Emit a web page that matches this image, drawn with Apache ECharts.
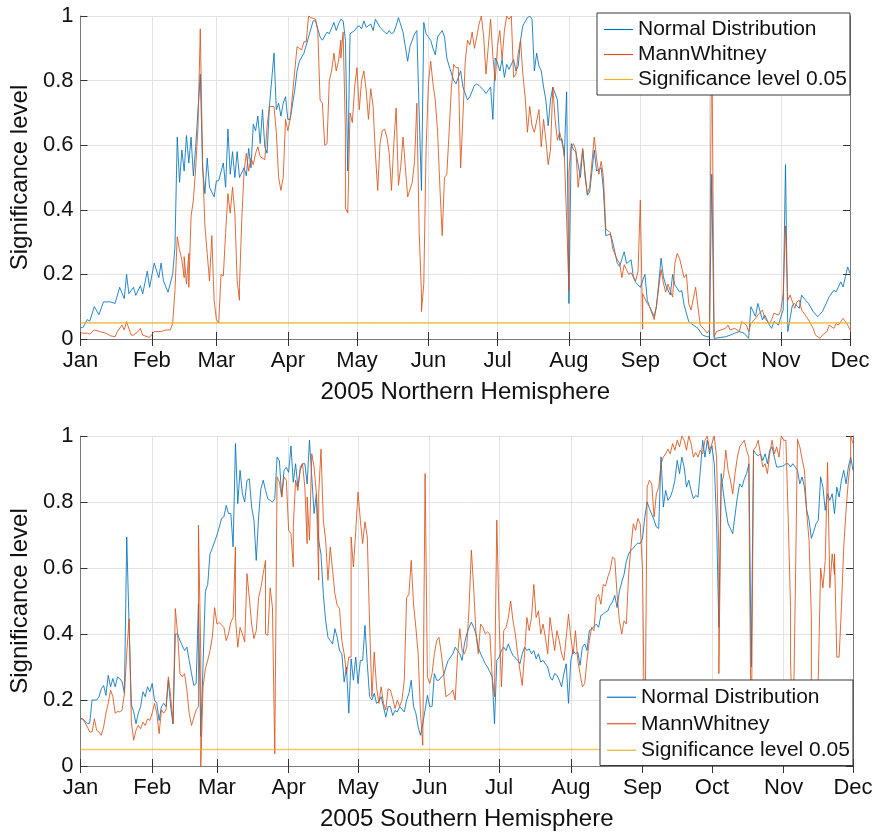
<!DOCTYPE html>
<html>
<head>
<meta charset="utf-8">
<title>2005 significance levels</title>
<script src="https://cdn.jsdelivr.net/npm/echarts@6/dist/echarts.min.js"></script>
<style>
  html, body { margin: 0; padding: 0; background: #fff; }
  #chart { width: 882px; height: 833px; }
</style>
</head>
<body>
<div id="chart"></div>
<script>
// Calendar of the x axis: one category per day from Jan 1 to Dec 1, 2005
const monthNames = ['Jan', 'Feb', 'Mar', 'Apr', 'May', 'Jun', 'Jul', 'Aug', 'Sep', 'Oct', 'Nov', 'Dec'];
const monthLengths = [31, 28, 31, 30, 31, 30, 31, 31, 30, 31, 30, 1];
const yTickValues = [0, 0.2, 0.4, 0.6, 0.8, 1];
const significanceLevel = 0.05;

// Daily p-values as [day of year (0 = Jan 1), value]
const northNormal = [
  [0,0.035],[1,0.035],[3,0.06],[4,0.055],[6,0.10],[8,0.075],[10,0.115],[13,0.115],[15,0.11],[17,0.16],
  [19,0.125],[20,0.20],[21,0.14],[23,0.16],[24,0.135],[26,0.165],[27,0.14],[29,0.21],[30,0.16],[32,0.235],
  [34,0.19],[35,0.235],[36,0.18],[38,0.145],[40,0.20],[41,0.285],[42,0.625],[43,0.485],[44,0.585],[45,0.52],
  [46,0.63],[47,0.545],[48,0.625],[49,0.505],[50,0.595],[52,0.82],[53,0.53],[54,0.45],[55,0.56],[56,0.47],
  [58,0.44],[59,0.49],[60,0.49],[62,0.545],[63,0.47],[64,0.65],[65,0.51],[66,0.58],[67,0.50],[68,0.58],
  [69,0.50],[71,0.53],[72,0.505],[73,0.59],[74,0.53],[75,0.665],[76,0.645],[77,0.69],[78,0.605],[79,0.71],
  [80,0.595],[81,0.575],[82,0.72],[84,0.885],[85,0.71],[86,0.73],[87,0.69],[88,0.73],[89,0.75],[90,0.68],
  [91,0.68],[93,0.77],[94,0.83],[95,0.86],[97,0.885],[99,0.935],[101,0.985],[102,0.985],[104,0.935],[105,0.925],
  [107,0.95],[108,0.945],[110,0.98],[111,0.955],[112,0.975],[113,0.99],[114,0.985],[115,0.925],[116,0.52],[117,0.945],
  [119,0.955],[120,0.965],[121,0.97],[122,0.96],[123,0.985],[124,0.965],[126,0.975],[127,0.955],[128,0.99],[130,0.965],
  [132,0.95],[133,0.945],[134,0.955],[135,0.945],[136,0.95],[137,0.97],[138,0.995],[140,0.95],[141,0.905],[142,0.86],
  [143,0.905],[144,0.925],[145,0.945],[146,0.955],[147,0.70],[148,0.46],[149,0.98],[150,0.945],[152,0.925],[153,0.90],
  [154,0.88],[155,0.935],[157,0.955],[158,0.935],[159,0.87],[160,0.845],[162,0.80],[163,0.79],[164,0.81],[165,0.83],
  [166,0.78],[168,0.74],[169,0.75],[171,0.785],[172,0.79],[173,0.785],[175,0.77],[176,0.76],[178,0.78],[179,0.68],
  [180,0.87],[181,0.855],[182,0.83],[183,0.865],[184,0.81],[185,0.85],[186,0.835],[188,0.865],[189,0.83],[190,0.845],
  [191,0.925],[192,0.97],[194,0.995],[195,1.0],[196,0.99],[197,0.83],[198,0.885],[199,0.845],[200,0.83],[201,0.78],
  [202,0.74],[203,0.66],[204,0.74],[205,0.78],[207,0.74],[208,0.615],[209,0.62],[210,0.565],[211,0.765],[212,0.11],
  [213,0.605],[214,0.585],[215,0.58],[217,0.50],[218,0.585],[220,0.445],[221,0.455],[223,0.585],[224,0.52],[226,0.53],
  [227,0.46],[228,0.32],[230,0.325],[231,0.30],[233,0.234],[234,0.225],[236,0.27],[237,0.234],[239,0.245],[240,0.19],
  [241,0.175],[243,0.16],[245,0.20],[246,0.12],[247,0.10],[249,0.07],[250,0.10],[252,0.25],[253,0.193],[254,0.167],
  [256,0.136],[257,0.20],[258,0.167],[260,0.146],[261,0.15],[262,0.105],[264,0.054],[266,0.043],[268,0.033],[270,0.012],
  [272,0.007],[273,0.007],[274,0.51],[275,0.002],[278,0.005],[280,0.007],[282,0.012],[284,0.018],[286,0.023],[288,0.018],
  [290,0.002],[291,0.10],[293,0.07],[294,0.11],[296,0.059],[297,0.074],[299,0.043],[300,0.033],[301,0.054],[303,0.043],
  [304,0.069],[305,0.09],[306,0.54],[307,0.023],[309,0.105],[310,0.11],[312,0.095],[313,0.136],[314,0.126],[316,0.11],
  [318,0.085],[320,0.069],[322,0.085],[324,0.115],[325,0.131],[327,0.151],[328,0.146],[330,0.177],[331,0.161],[332,0.193],
  [333,0.223],[334,0.203]
];

const northMann = [
  [0,0.02],[1,0.018],[3,0.018],[4,0.015],[6,0.028],[9,0.022],[11,0.018],[13,0.01],[15,0.007],[16,0.023],
  [18,0.043],[19,0.028],[20,0.054],[22,0.012],[23,0.012],[25,0.023],[26,0.033],[27,0.012],[29,0.007],[30,0.005],
  [32,0.023],[35,0.023],[37,0.028],[39,0.028],[40,0.048],[41,0.15],[42,0.316],[43,0.275],[44,0.245],[45,0.19],
  [45,0.255],[46,0.17],[47,0.265],[47,0.16],[48,0.38],[49,0.43],[50,0.53],[51,0.655],[52,0.96],[53,0.55],
  [54,0.35],[55,0.265],[56,0.18],[57,0.32],[58,0.12],[59,0.06],[60,0.05],[61,0.20],[62,0.195],[63,0.33],
  [64,0.45],[65,0.39],[66,0.47],[67,0.39],[68,0.18],[69,0.12],[69,0.16],[70,0.37],[71,0.52],[72,0.575],
  [73,0.52],[74,0.56],[75,0.54],[76,0.575],[77,0.595],[78,0.565],[80,0.555],[81,0.66],[82,0.72],[84,0.72],
  [85,0.64],[86,0.50],[87,0.46],[88,0.50],[89,0.68],[90,0.645],[91,0.68],[93,0.83],[94,0.905],[96,0.895],
  [97,0.92],[98,0.92],[99,1.0],[100,0.995],[102,0.99],[103,0.955],[104,0.74],[105,0.73],[106,0.60],[107,0.605],
  [108,0.80],[109,0.83],[110,0.885],[111,0.83],[112,0.86],[113,0.925],[113,0.87],[114,0.95],[115,0.64],[115,0.405],
  [116,0.39],[117,0.70],[118,0.67],[119,0.78],[120,0.84],[121,0.71],[122,0.80],[123,0.83],[124,0.77],[125,0.68],
  [126,0.775],[127,0.72],[128,0.575],[129,0.46],[130,0.605],[131,0.645],[132,0.65],[133,0.625],[134,0.575],[135,0.46],
  [136,0.605],[137,0.715],[138,0.476],[139,0.533],[140,0.625],[141,0.533],[142,0.44],[144,0.485],[145,0.55],[146,0.73],
  [147,0.33],[148,0.14],[148,0.085],[149,0.17],[150,0.585],[151,0.79],[152,0.86],[153,0.79],[154,0.74],[155,0.64],
  [156,0.47],[157,0.32],[158,0.50],[159,0.51],[160,0.64],[161,0.78],[162,0.85],[163,0.84],[164,0.84],[165,0.53],
  [166,0.69],[167,0.86],[168,0.925],[169,0.91],[170,0.95],[171,0.90],[172,0.935],[173,0.975],[174,1.0],[175,0.935],
  [176,0.82],[177,0.905],[178,0.99],[179,0.875],[180,0.80],[181,0.905],[182,0.955],[183,0.865],[184,0.955],[185,1.0],
  [186,0.99],[187,1.0],[188,0.81],[189,0.82],[190,0.885],[191,0.925],[192,0.82],[193,0.75],[194,0.64],[195,0.72],
  [196,0.66],[197,0.64],[199,0.71],[200,0.595],[201,0.68],[202,0.615],[203,0.54],[204,0.585],[205,0.78],[206,0.68],
  [207,0.615],[208,0.64],[210,0.575],[211,0.37],[212,0.15],[212,0.52],[213,0.595],[214,0.605],[215,0.585],[216,0.47],
  [217,0.53],[218,0.59],[219,0.50],[220,0.45],[221,0.47],[223,0.625],[224,0.56],[225,0.51],[226,0.55],[227,0.50],
  [228,0.34],[230,0.33],[231,0.28],[233,0.245],[234,0.235],[235,0.19],[236,0.23],[238,0.20],[239,0.205],[241,0.18],
  [242,0.21],[243,0.43],[244,0.03],[244,0.14],[246,0.11],[247,0.10],[249,0.06],[250,0.105],[252,0.215],[253,0.173],
  [254,0.145],[255,0.17],[257,0.13],[258,0.235],[259,0.265],[260,0.25],[262,0.19],[263,0.20],[264,0.11],[265,0.09],
  [267,0.16],[268,0.10],[269,0.043],[271,0.028],[272,0.018],[273,0.028],[274,0.98],[275,0.007],[276,0.023],[278,0.028],
  [280,0.033],[281,0.043],[282,0.028],[284,0.033],[286,0.023],[287,0.054],[289,0.043],[290,0.023],[291,0.048],[293,0.064],
  [294,0.074],[296,0.09],[297,0.064],[299,0.048],[300,0.059],[301,0.08],[303,0.074],[304,0.09],[305,0.14],[306,0.35],
  [307,0.12],[308,0.136],[310,0.095],[311,0.115],[312,0.12],[313,0.09],[315,0.07],[316,0.059],[318,0.033],[319,0.012],
  [321,0.002],[322,0.012],[324,0.023],[325,0.043],[327,0.033],[328,0.048],[329,0.043],[331,0.064],[332,0.054],[333,0.043],
  [334,0.028]
];

const southNormal = [
  [0,0.143],[1,0.143],[3,0.128],[4,0.13],[5,0.20],[7,0.20],[8,0.21],[9,0.234],[10,0.244],[11,0.214],
  [12,0.275],[13,0.24],[14,0.265],[15,0.24],[16,0.27],[17,0.265],[18,0.255],[19,0.22],[20,0.694],[21,0.43],
  [22,0.185],[23,0.165],[24,0.128],[25,0.16],[26,0.18],[27,0.225],[28,0.21],[29,0.24],[30,0.225],[31,0.25],
  [32,0.20],[33,0.19],[34,0.138],[35,0.18],[36,0.19],[37,0.18],[38,0.26],[39,0.18],[40,0.128],[41,0.40],
  [42,0.40],[43,0.38],[45,0.35],[46,0.36],[47,0.32],[48,0.28],[49,0.244],[50,0.25],[51,0.49],[52,0.09],
  [54,0.53],[55,0.55],[56,0.643],[57,0.66],[59,0.70],[60,0.724],[61,0.75],[62,0.755],[63,0.79],[64,0.765],
  [65,0.765],[66,0.664],[67,0.977],[68,0.795],[69,0.896],[70,0.825],[71,0.80],[72,0.866],[73,0.87],[74,0.785],
  [75,0.745],[76,0.623],[77,0.755],[78,0.84],[79,0.866],[80,0.835],[81,0.81],[82,0.805],[83,0.80],[84,0.81],
  [85,0.936],[86,0.925],[87,0.815],[88,0.896],[89,0.905],[90,0.89],[91,0.97],[92,0.86],[93,0.916],[94,0.845],
  [95,0.896],[96,0.916],[97,0.916],[98,0.855],[99,0.987],[100,0.876],[101,0.765],[102,0.825],[103,0.684],[104,0.64],
  [105,0.52],[106,0.44],[107,0.39],[108,0.38],[109,0.37],[110,0.416],[111,0.39],[112,0.35],[113,0.34],[114,0.255],
  [115,0.30],[116,0.16],[117,0.325],[118,0.26],[119,0.33],[120,0.25],[121,0.32],[122,0.32],[123,0.426],[124,0.31],
  [125,0.21],[126,0.20],[127,0.22],[128,0.19],[129,0.195],[130,0.21],[131,0.18],[132,0.148],[133,0.18],[134,0.18],
  [135,0.153],[136,0.168],[137,0.164],[138,0.18],[140,0.164],[141,0.20],[142,0.22],[143,0.26],[144,0.18],[145,0.16],
  [146,0.118],[147,0.093],[148,0.128],[149,0.17],[150,0.214],[151,0.18],[152,0.18],[153,0.28],[154,0.26],[155,0.26],
  [156,0.27],[157,0.275],[158,0.30],[159,0.32],[161,0.34],[162,0.36],[163,0.35],[164,0.34],[165,0.32],[166,0.37],
  [167,0.40],[168,0.42],[169,0.436],[170,0.42],[171,0.40],[172,0.36],[173,0.34],[174,0.325],[175,0.31],[176,0.30],
  [177,0.285],[178,0.27],[179,0.128],[180,0.32],[181,0.33],[182,0.35],[183,0.36],[184,0.35],[185,0.37],[186,0.35],
  [187,0.335],[189,0.32],[190,0.31],[191,0.34],[192,0.36],[193,0.35],[194,0.355],[195,0.34],[196,0.35],[197,0.325],
  [198,0.34],[199,0.315],[200,0.32],[202,0.30],[203,0.27],[204,0.26],[205,0.28],[206,0.275],[207,0.26],[208,0.24],
  [209,0.28],[210,0.31],[211,0.19],[212,0.32],[213,0.35],[214,0.34],[215,0.345],[216,0.305],[217,0.36],[218,0.37],
  [219,0.35],[220,0.41],[221,0.415],[223,0.43],[224,0.42],[225,0.456],[226,0.46],[227,0.467],[228,0.47],[229,0.487],
  [230,0.497],[231,0.517],[232,0.48],[233,0.53],[234,0.557],[235,0.58],[236,0.62],[237,0.643],[238,0.654],[239,0.66],
  [240,0.669],[241,0.676],[242,0.674],[243,0.69],[244,0.755],[245,0.80],[246,0.78],[248,0.745],[249,0.724],[250,0.72],
  [251,0.937],[252,0.785],[253,0.835],[254,0.805],[255,0.815],[256,0.835],[257,0.866],[258,0.926],[259,0.886],[260,0.936],
  [261,0.906],[262,0.845],[263,0.866],[264,0.835],[265,0.81],[266,0.82],[267,0.815],[268,0.896],[269,0.987],[270,0.936],
  [271,0.987],[272,0.946],[273,0.97],[274,0.916],[275,0.745],[276,0.42],[277,0.886],[278,0.825],[279,0.775],[280,0.734],
  [282,0.704],[283,0.76],[284,0.815],[285,0.855],[286,0.845],[287,0.87],[288,0.886],[289,0.916],[290,0.30],[291,0.957],
  [292,0.946],[293,0.94],[294,0.946],[295,0.926],[296,0.946],[297,0.916],[298,0.957],[299,0.967],[300,0.936],[301,0.906],
  [302,0.906],[304,0.91],[305,0.916],[306,0.916],[307,0.906],[308,0.916],[310,0.896],[311,0.855],[312,0.876],[313,0.845],
  [314,0.775],[315,0.745],[316,0.69],[317,0.71],[318,0.734],[319,0.745],[320,0.876],[321,0.845],[322,0.775],[323,0.825],
  [324,0.805],[325,0.825],[326,0.765],[327,0.845],[328,0.815],[329,0.866],[330,0.896],[331,0.855],[332,0.906],[333,0.936],
  [334,0.896]
];

const southMann = [
  [0,0.143],[1,0.143],[3,0.118],[4,0.103],[5,0.103],[6,0.143],[7,0.108],[8,0.103],[9,0.093],[10,0.118],
  [11,0.16],[12,0.19],[13,0.23],[14,0.21],[15,0.16],[16,0.165],[17,0.164],[18,0.17],[19,0.22],[20,0.34],
  [21,0.446],[22,0.133],[23,0.078],[24,0.108],[25,0.123],[26,0.113],[27,0.133],[28,0.123],[29,0.143],[30,0.138],
  [31,0.16],[32,0.19],[33,0.16],[34,0.098],[35,0.17],[36,0.16],[37,0.17],[38,0.27],[39,0.21],[40,0.128],
  [41,0.477],[42,0.40],[43,0.28],[44,0.27],[45,0.28],[46,0.23],[47,0.16],[48,0.123],[50,0.17],[51,0.18],
  [51,0.73],[52,0.34],[52,0.0],[53,0.24],[54,0.295],[55,0.32],[56,0.35],[57,0.39],[58,0.48],[59,0.43],
  [60,0.435],[62,0.42],[63,0.38],[64,0.40],[65,0.436],[66,0.45],[67,0.664],[67,0.45],[68,0.36],[69,0.42],
  [70,0.40],[71,0.376],[72,0.583],[73,0.51],[74,0.43],[75,0.386],[76,0.41],[77,0.51],[78,0.54],[79,0.583],
  [80,0.623],[80,0.40],[81,0.396],[82,0.54],[83,0.48],[84,0.037],[85,0.876],[86,0.86],[87,0.815],[88,0.876],
  [89,0.866],[90,0.714],[91,0.704],[92,0.603],[92,0.724],[93,0.866],[94,0.835],[95,0.906],[96,0.916],[97,0.845],
  [98,0.674],[98,0.815],[99,0.684],[100,0.946],[101,0.906],[102,0.825],[103,0.563],[103,0.825],[104,0.96],[105,0.745],
  [106,0.684],[107,0.563],[108,0.664],[109,0.593],[110,0.522],[111,0.487],[112,0.477],[113,0.38],[114,0.34],[115,0.28],
  [116,0.33],[117,0.33],[117,0.694],[118,0.603],[119,0.71],[120,0.83],[121,0.745],[122,0.674],[123,0.74],[124,0.694],
  [125,0.43],[126,0.21],[127,0.345],[128,0.24],[129,0.19],[130,0.24],[131,0.19],[132,0.17],[133,0.234],[134,0.23],
  [135,0.204],[136,0.174],[137,0.20],[138,0.18],[139,0.20],[140,0.26],[141,0.51],[142,0.52],[143,0.623],[144,0.49],
  [145,0.42],[146,0.34],[147,0.16],[148,0.063],[149,0.886],[150,0.27],[151,0.25],[152,0.28],[153,0.34],[154,0.38],
  [155,0.39],[156,0.34],[157,0.28],[158,0.21],[160,0.22],[161,0.23],[162,0.20],[163,0.33],[164,0.416],[165,0.35],
  [166,0.34],[167,0.36],[168,0.48],[169,0.654],[170,0.54],[171,0.40],[172,0.34],[173,0.43],[174,0.42],[175,0.40],
  [176,0.406],[177,0.40],[178,0.27],[179,0.21],[180,0.745],[181,0.44],[182,0.24],[183,0.41],[184,0.42],[185,0.45],
  [186,0.50],[187,0.44],[188,0.40],[189,0.34],[190,0.29],[191,0.244],[192,0.34],[193,0.45],[194,0.41],[195,0.45],
  [196,0.55],[197,0.45],[198,0.47],[199,0.40],[200,0.43],[201,0.39],[202,0.34],[203,0.45],[204,0.40],[205,0.35],
  [206,0.41],[207,0.38],[208,0.34],[209,0.32],[210,0.39],[211,0.46],[212,0.39],[213,0.34],[214,0.41],[215,0.32],
  [216,0.28],[217,0.24],[218,0.25],[219,0.32],[220,0.38],[221,0.42],[222,0.41],[223,0.51],[224,0.52],[225,0.49],
  [226,0.55],[227,0.545],[228,0.573],[229,0.593],[230,0.633],[231,0.628],[232,0.52],[233,0.44],[234,0.40],[235,0.44],
  [236,0.43],[237,0.583],[238,0.664],[239,0.734],[240,0.714],[241,0.75],[242,0.734],[243,0.593],[244,0.02],[245,0.845],
  [246,0.866],[247,0.855],[248,0.755],[249,0.825],[250,0.845],[251,0.916],[252,0.936],[253,0.946],[254,0.96],[255,0.946],
  [256,0.977],[257,0.957],[258,0.987],[259,0.967],[260,1.0],[261,0.987],[262,0.957],[263,1.0],[264,0.977],[265,0.936],
  [266,0.95],[267,0.936],[268,0.957],[269,0.946],[270,0.987],[271,1.0],[272,0.957],[273,0.977],[274,1.0],[275,0.936],
  [276,0.643],[276,0.28],[277,0.855],[278,0.876],[279,0.957],[280,0.896],[281,0.866],[282,0.825],[283,0.886],[284,0.936],
  [285,0.967],[286,0.977],[287,0.987],[288,0.957],[289,0.936],[289,0.845],[290,0.03],[291,0.957],[292,0.967],[293,0.987],
  [294,0.946],[295,0.906],[296,0.916],[297,0.886],[298,0.946],[299,0.987],[300,0.946],[301,0.967],[302,0.936],[303,1.0],
  [304,0.987],[305,0.987],[306,0.745],[307,0.48],[307,0.32],[308,0.05],[309,0.50],[310,0.99],[311,0.967],[312,0.93],
  [313,0.896],[314,0.765],[315,0.684],[316,0.45],[316,0.15],[318,0.08],[319,0.27],[320,0.60],[321,0.54],[322,0.623],
  [323,0.92],[324,0.54],[325,0.643],[326,0.58],[326,0.643],[327,0.33],[328,0.33],[329,0.48],[330,0.664],[331,0.775],
  [332,0.866],[333,0.926],[333,1.0],[334,0.977]
];

// Build the daily categories and the indices where each month begins
const dayCategories = [];
const monthStarts = new Set();
monthLengths.forEach((len, m) => {
  monthStarts.add(dayCategories.length);
  for (let d = 1; d <= len; d++) dayCategories.push(monthNames[m] + ' ' + d);
});
const lastDay = dayCategories.length - 1;
const isMonthStart = (idx) => monthStarts.has(idx);

const FONT = "'Liberation Sans', Arial, Helvetica, sans-serif";
const TEXT = '#111';
const AXIS = '#7a7a7a';
const TICK = '#333';
const GRID = '#e3e3e3';
const BLUE = '#0072BD';
const ORANGE = '#D95319';
const YELLOW = '#EDB120';
// thin horizontal bar used as the legend key
const LEGEND_KEY = 'path://M0,0H100V4H0Z';

const panels = [
  { title: '2005 Northern Hemisphere', normal: northNormal, mann: northMann,
    grid: { left: 80, top: 16, width: 770, height: 323 },
    legend: { left: 597, top: 13, lineHeight: 25, padding: [4, 3, 3, 7] } },
  { title: '2005 Southern Hemisphere', normal: southNormal, mann: southMann,
    grid: { left: 80, top: 436, width: 773, height: 330 },
    legend: { left: 600, top: 680, lineHeight: 26.5, padding: [4, 3, 2, 7] } }
];

const grids = [], xAxes = [], yAxes = [], series = [], legends = [];

panels.forEach((p, i) => {
  grids.push(p.grid);
  const bx = xAxes.length, by = yAxes.length;
  // bottom date axis
  xAxes.push({
    type: 'category', gridIndex: i, data: dayCategories, boundaryGap: false, position: 'bottom',
    name: p.title, nameLocation: 'middle', nameGap: 41,
    nameTextStyle: { fontFamily: FONT, fontSize: 24, color: TEXT },
    axisLine: { show: true, lineStyle: { color: AXIS, width: 1 } },
    axisTick: { show: true, inside: true, length: 7, interval: isMonthStart, lineStyle: { color: TICK } },
    axisLabel: { show: true, interval: isMonthStart, margin: 11, fontFamily: FONT, fontSize: 22, color: TEXT,
                 formatter: (v) => v.split(' ')[0] },
    splitLine: { show: true, interval: isMonthStart, lineStyle: { color: GRID, width: 1 } }
  });
  // mirrored top edge of the box
  xAxes.push({
    type: 'category', gridIndex: i, data: dayCategories, boundaryGap: false, position: 'top',
    axisLine: { show: true, lineStyle: { color: AXIS, width: 1 } },
    axisTick: { show: true, inside: true, length: 7, interval: isMonthStart, lineStyle: { color: TICK } },
    axisLabel: { show: false }, splitLine: { show: false }
  });
  yAxes.push({
    type: 'value', gridIndex: i, min: 0, max: 1, interval: 0.2, position: 'left',
    name: 'Significance level', nameLocation: 'middle', nameGap: 39,
    nameTextStyle: { fontFamily: FONT, fontSize: 24, color: TEXT },
    axisLine: { show: true, lineStyle: { color: AXIS, width: 1 } },
    axisTick: { show: true, inside: true, length: 7, lineStyle: { color: TICK } },
    axisLabel: { show: true, margin: 7, fontFamily: FONT, fontSize: 22, color: TEXT,
                 formatter: (v) => String(yTickValues.find((t) => Math.abs(t - v) < 1e-9) ?? v) },
    splitLine: { show: true, lineStyle: { color: GRID, width: 1 } }
  });
  // mirrored right edge of the box
  yAxes.push({
    type: 'value', gridIndex: i, min: 0, max: 1, interval: 0.2, position: 'right',
    axisLine: { show: true, lineStyle: { color: AXIS, width: 1 } },
    axisTick: { show: true, inside: true, length: 7, lineStyle: { color: TICK } },
    axisLabel: { show: false }, splitLine: { show: false }
  });

  const lineSeries = (name, data, color, width, opacity) => ({
    name, type: 'line', xAxisIndex: bx, yAxisIndex: by, data,
    symbol: 'none', showSymbol: false, smooth: false, silent: true,
    lineStyle: { color, width, opacity }, itemStyle: { color }, z: 2
  });
  series.push(lineSeries('Normal Distribution', p.normal, BLUE, 0.85, 1));
  series.push(lineSeries('MannWhitney', p.mann, ORANGE, 0.85, 1));
  series.push(lineSeries('Significance level 0.05',
    [[0, significanceLevel], [lastDay, significanceLevel]], YELLOW, 1.6, 0.7));

  legends.push({
    orient: 'vertical', left: p.legend.left, top: p.legend.top,
    padding: p.legend.padding, itemGap: 0, itemWidth: 29, itemHeight: 14,
    icon: LEGEND_KEY,
    backgroundColor: '#fff', borderColor: '#3a3a3a', borderWidth: 1, borderRadius: 0,
    selectedMode: false,
    textStyle: { fontFamily: FONT, fontSize: 21, color: TEXT, lineHeight: p.legend.lineHeight },
    data: ['Normal Distribution', 'MannWhitney', 'Significance level 0.05'],
    z: 10
  });
});

const chart = echarts.init(document.getElementById('chart'), null, { renderer: 'canvas' });
chart.setOption({
  animation: false,
  backgroundColor: '#fff',
  grid: grids,
  xAxis: xAxes,
  yAxis: yAxes,
  legend: legends,
  series: series
});
</script>
</body>
</html>
